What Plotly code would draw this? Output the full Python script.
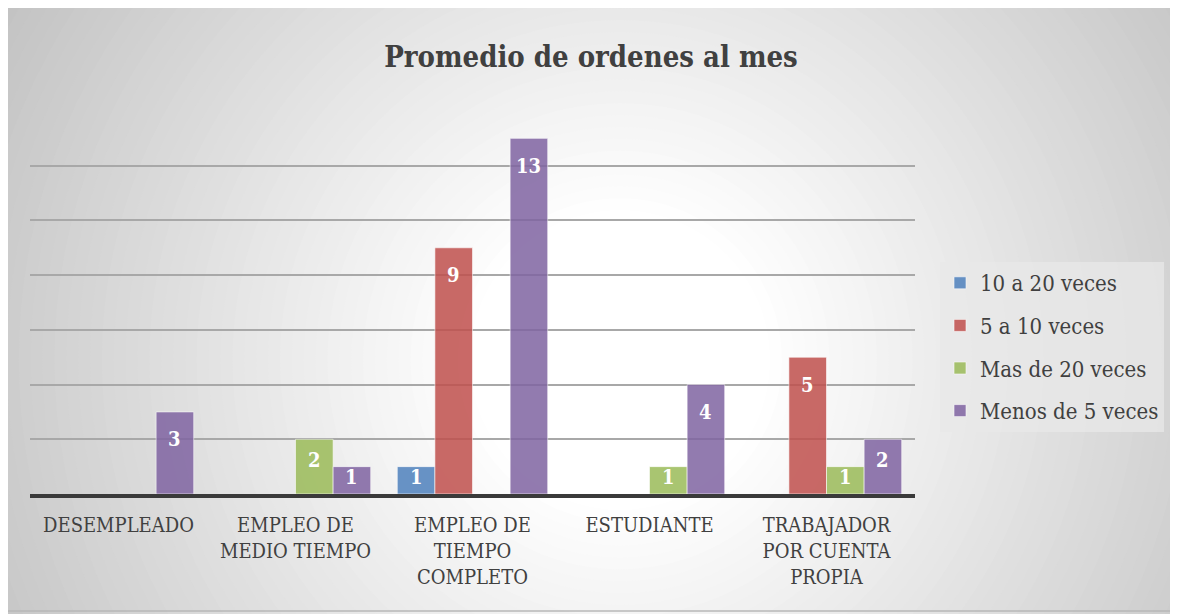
import plotly.graph_objects as go

# data
categorias = ["DESEMPLEADO", "EMPLEO DE<br>MEDIO TIEMPO", "EMPLEO DE<br>TIEMPO<br>COMPLETO",
              "ESTUDIANTE", "TRABAJADOR<br>POR CUENTA<br>PROPIA"]
series = ["10 a 20 veces", "5 a 10 veces", "Mas de 20 veces", "Menos de 5 veces"]
v_10a20 = [None, None, 1, None, None]
v_5a10 = [None, None, 9, None, 5]
v_mas20 = [None, 2, None, 1, 1]
v_menos5 = [3, 1, 13, 4, 2]
valores = [v_10a20, v_5a10, v_mas20, v_menos5]
colores = ["#4f81bd", "#c0504d", "#9bbb59", "#8064a2"]

# page body has an 8px margin, so work in screen pixels and shift
OFF = 8
W, H = 1178 - OFF, 614 - OFF
L, R, T, B = 30 - OFF, 263, 111 - OFF, 120
FONT = "DejaVu Serif Condensed, Liberation Serif, serif"
TXT = "#404040"
BARGAP = 0.15

def px(x, y):
    # screen pixel -> paper coords
    x, y = x - OFF, y - OFF
    return (x - L) / (W - L - R), (H - B - y) / (H - T - B)

fig = go.Figure()
for nombre, vals, col in zip(series, valores, colores):
    fig.add_trace(go.Bar(name=nombre, x=categorias, y=vals, marker_color=col, opacity=0.85,
                         marker_line=dict(color="rgba(255,255,255,0.6)", width=1),
                         legendgroup=nombre))

# radial background made of concentric circles
shapes = []
cx, cy = 620, 360
r0, r1 = 150, 720
n = 48
for k in range(n, -1, -1):
    r = r0 + (r1 - r0) * k / n
    g = int(round(255 - (255 - 194) * k / n))
    x0, y0 = px(cx - r, cy + r)
    x1, y1 = px(cx + r, cy - r)
    shapes.append(dict(type="circle", xref="paper", yref="paper", x0=x0, y0=y0, x1=x1, y1=y1,
                       fillcolor="rgb(%d,%d,%d)" % (g, g, g), line=dict(width=0), layer="below"))
# thin border on right and bottom
ax0, ay0 = px(OFF, 611)
ax1, ay1 = px(1175, 2)
shapes.append(dict(type="path", xref="paper", yref="paper",
                   path="M %f,%f L %f,%f L %f,%f" % (ax0, ay0, ax1, ay0, ax1, ay1),
                   line=dict(color="#b8b8b8", width=1.5), layer="above"))

# data labels, inside end
anots = []
ancho = (1 - BARGAP) / len(series)
for i, vals in enumerate(valores):
    off = (i - (len(series) - 1) / 2) * ancho
    for j, v in enumerate(vals):
        if v is None:
            continue
        yy = max(v - 1, v * 0.62)
        anots.append(dict(x=j + off, y=yy, xref="x", yref="y", text="<b>%d</b>" % v,
                          showarrow=False, font=dict(family=FONT, size=20, color="white")))

fig.update_layout(
    width=W, height=H,
    margin=dict(l=L, r=R, t=T, b=B),
    paper_bgcolor="#c4c4c4", plot_bgcolor="rgba(0,0,0,0)",
    barmode="group", bargap=BARGAP, bargroupgap=0,
    title=dict(text="<b>Promedio de ordenes al mes</b>", x=(591 - OFF) / W, xanchor="center",
               y=1 - (57 - OFF) / H, yanchor="middle", font=dict(family=FONT, size=29, color=TXT)),
    font=dict(family=FONT, color=TXT),
    shapes=shapes, annotations=anots,
    legend=dict(x=px(940, 0)[0], xanchor="left", y=px(0, 347)[1], yanchor="middle",
                bgcolor="rgba(232,232,232,0.75)", font=dict(family=FONT, size=22, color=TXT),
                tracegroupgap=11, itemwidth=30),
    showlegend=True,
)
fig.update_xaxes(type="category", showline=True, linecolor="#3a3a3a", linewidth=4,
                 showgrid=False, ticks="", tickfont=dict(family=FONT, size=20, color=TXT),
                 ticklabelstandoff=10)
fig.update_yaxes(range=[0, 14], dtick=2, showgrid=True, gridcolor="#a8a8a8", gridwidth=1.5,
                 zeroline=False, showticklabels=False)

fig.write_html("out.html")
